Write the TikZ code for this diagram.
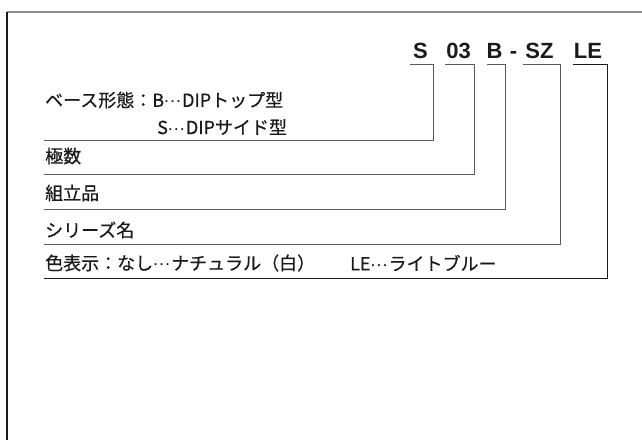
\documentclass[tikz,border=0pt]{standalone}
\usepackage{fontspec}
\setmainfont{Liberation Sans}
\newfontfamily\jpfont{Noto Sans CJK JP}[FakeBold=0.5,AutoFakeBold=0.5,UprightFeatures={FakeBold=0.5}]
\usetikzlibrary{positioning}
\definecolor{framegray}{HTML}{8A8A8A}
\definecolor{linegray}{HTML}{5A5A5A}
\definecolor{textblack}{HTML}{1A1A1A}

% centred ellipsis
\newcommand{\jdots}{{\rmfamily\kern-0.5pt···\kern0.5pt}}

\tikzset{
    codeletter/.style={anchor=base, inner sep=0pt, font=\fontsize{22}{22}\selectfont\bfseries, text=textblack},
    labeltext/.style={anchor=west, inner sep=0pt, font=\jpfont\fontsize{18}{19}\selectfont, text=textblack},
    bracket/.style={draw=linegray, line width=1pt}
}

\begin{document}
\begin{tikzpicture}[x=1pt, y=-1pt]
    \useasboundingbox (0,0) rectangle (642,440);

    % Frame (only top and left edges show)
    \draw[framegray, line width=1.3pt] (7,12) -- (642,12);
    \draw[textblack, line width=1.3pt] (7,12) -- (7,440);

    % Part number
    \node[codeletter] (cS)  at (420.5,58) {S};
    \node[codeletter] (c03) at (458.5,58) {03};
    \node[codeletter] (cB)  at (494.5,58) {B};
    \node[codeletter] (cd)  at (513.5,58) {-};
    \node[codeletter] (cSZ) at (539.5,58) {SZ};
    \node[codeletter] (cLE) at (588,58) {LE};

    % Labels
    \node[labeltext] (base)   at (45,100) {ベース形態：B\jdots DIPトップ型};
    \node[labeltext] (base2)  at (157,127) {S\jdots DIPサイド型};
    \node[labeltext] (poles)  at (45,156) {極数};
    \node[labeltext] (assy)   at (45,193) {組立品};
    \node[labeltext] (series) at (45,230) {シリーズ名};
    \node[labeltext] (color)  at (45,263) {色表示：なし\jdots ナチュラル（白）};
    \node[labeltext] (color2) at (350,263) {LE\jdots ライトブルー};

    % Bracket corners
    \coordinate (sTop)  at (410,64);  \coordinate (sEnd)  at (44,140);
    \coordinate (nTop)  at (445,64);  \coordinate (nEnd)  at (44,174);
    \coordinate (bTop)  at (487,64);  \coordinate (bEnd)  at (44,209);
    \coordinate (zTop)  at (523,64);  \coordinate (zEnd)  at (44,244);
    \coordinate (lTop)  at (573,64);  \coordinate (lEnd)  at (44,278);

    % Brackets
    \draw[bracket] (sTop) -- (433,64) |- (sEnd);
    \draw[bracket] (nTop) -- (474,64) |- (nEnd);
    \draw[bracket] (bTop) -- (505,64) |- (bEnd);
    \draw[bracket] (zTop) -- (560,64) |- (zEnd);
    \draw[bracket, draw=textblack] (lTop) -- (607,64) |- (lEnd);
\end{tikzpicture}
\end{document}
